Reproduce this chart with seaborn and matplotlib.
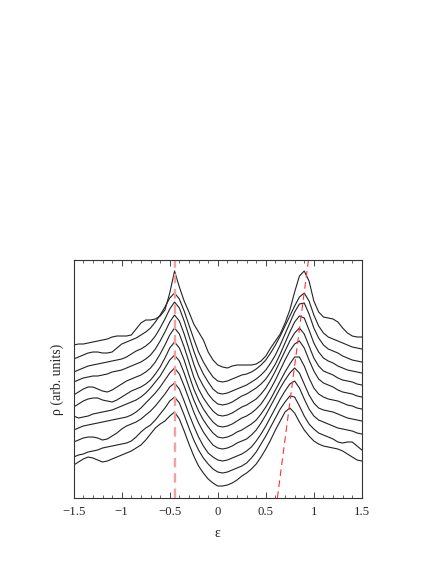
import numpy as np
import pandas as pd
import matplotlib
matplotlib.use('Agg')
import matplotlib.pyplot as plt
import seaborn as sns


# Energiegitter (epsilon)
eps = [-1.5, -1.45, -1.4, -1.35, -1.3, -1.25, -1.2, -1.15, -1.1, -1.05,
       -1.0, -0.95, -0.9, -0.85, -0.8, -0.75, -0.7, -0.65, -0.6, -0.55,
       -0.5, -0.45, -0.4, -0.35, -0.3, -0.25, -0.2, -0.15, -0.1, -0.05,
       0.0, 0.05, 0.1, 0.15, 0.2, 0.25, 0.3, 0.35, 0.4, 0.45,
       0.5, 0.55, 0.6, 0.65, 0.7, 0.75, 0.8, 0.85, 0.9, 0.95,
       1.0, 1.05, 1.1, 1.15, 1.2, 1.25, 1.3, 1.35, 1.4, 1.45, 1.5]

# Zustandsdichte, von unten nach oben (bereits versetzt)
rho_0 = [33, 36, 39, 41, 40, 38, 36, 37, 39, 41,
         43, 45, 47, 50, 53, 58, 64, 70, 74, 77,
         82, 86, 79, 67, 54, 42, 32, 25, 19, 15,
         12, 12, 13, 15, 18, 22, 25, 29, 34, 41,
         49, 58, 68, 77, 86, 90, 85, 76, 68, 62,
         57, 54, 52, 51, 50, 49, 47, 44, 41, 38, 37]
rho_1 = [41, 43, 44, 46, 47, 48, 50, 51, 52, 53,
         54, 55, 57, 61, 66, 70, 73, 78, 84, 90,
         97, 101, 95, 83, 70, 58, 48, 40, 34, 29,
         26, 25, 26, 28, 30, 32, 35, 40, 46, 54,
         62, 71, 80, 89, 96, 102, 101, 92, 82, 74,
         69, 65, 63, 61, 59, 56, 55, 56, 56, 52, 48]
rho_2 = [56, 58, 60, 61, 61, 60, 58, 59, 62, 65,
         69, 72, 74, 76, 79, 83, 87, 92, 98, 104,
         111, 115, 109, 97, 84, 72, 61, 52, 45, 41,
         38, 37, 38, 40, 42, 44, 47, 51, 57, 64,
         72, 81, 90, 99, 107, 114, 117, 110, 99, 89,
         82, 78, 76, 74, 72, 70, 69, 68, 67, 65, 64]
rho_3 = [68, 70, 72, 73, 74, 75, 76, 77, 78, 79,
         80, 81, 83, 86, 90, 95, 100, 105, 111, 118,
         125, 130, 124, 112, 99, 86, 75, 66, 59, 53,
         50, 49, 50, 52, 55, 57, 59, 63, 68, 75,
         83, 92, 101, 110, 118, 125, 130, 125, 114, 103,
         95, 90, 88, 87, 86, 84, 82, 80, 79, 78, 77]
rho_4 = [82, 80, 81, 82, 84, 85, 86, 87, 88, 90,
         92, 94, 96, 98, 101, 105, 110, 116, 122, 130,
         138, 143, 137, 125, 111, 98, 87, 78, 71, 65,
         61, 60, 61, 63, 66, 68, 71, 74, 78, 84,
         91, 99, 108, 117, 126, 134, 141, 141, 132, 120,
         110, 104, 101, 99, 98, 97, 95, 93, 92, 90, 89]
rho_5 = [91, 94, 97, 99, 100, 100, 98, 97, 96, 98,
         101, 104, 107, 109, 111, 114, 118, 124, 131, 140,
         150, 156, 150, 138, 123, 109, 98, 89, 82, 76,
         72, 71, 72, 74, 77, 80, 82, 85, 89, 94,
         101, 109, 118, 128, 138, 147, 154, 157, 150, 138,
         127, 119, 115, 113, 111, 108, 106, 105, 104, 102, 101]
rho_6 = [103, 106, 109, 111, 111, 109, 107, 106, 108, 111,
         114, 117, 119, 121, 123, 126, 130, 136, 144, 153,
         163, 170, 164, 151, 136, 121, 109, 100, 93, 87,
         83, 82, 83, 85, 88, 91, 93, 96, 99, 104,
         110, 118, 127, 137, 147, 157, 165, 170, 164, 152,
         140, 132, 127, 125, 123, 120, 118, 117, 116, 114, 113]
rho_7 = [116, 118, 120, 121, 122, 122, 123, 124, 126, 127,
         128, 130, 132, 134, 136, 139, 143, 149, 157, 166,
         176, 183, 177, 164, 149, 134, 121, 112, 104, 98,
         94, 93, 94, 96, 99, 102, 104, 107, 110, 114,
         119, 126, 134, 144, 155, 166, 176, 182, 180, 168,
         155, 146, 140, 137, 135, 132, 130, 128, 127, 126, 125]
rho_8 = [126, 128, 130, 132, 133, 134, 135, 136, 137, 138,
         139, 141, 144, 147, 149, 152, 156, 162, 170, 179,
         189, 196, 190, 177, 162, 147, 134, 124, 116, 109,
         105, 104, 105, 107, 109, 111, 113, 116, 119, 123,
         128, 135, 143, 153, 164, 175, 186, 194, 195, 184,
         170, 160, 153, 149, 147, 145, 142, 140, 138, 137, 136]
rho_9 = [139, 141, 143, 145, 146, 146, 145, 145, 146, 150,
         154, 156, 158, 160, 163, 166, 170, 176, 183, 191,
         200, 205, 199, 187, 173, 159, 146, 136, 128, 121,
         117, 116, 117, 119, 121, 123, 124, 126, 129, 133,
         138, 145, 153, 162, 172, 182, 192, 201, 205, 197,
         183, 172, 165, 161, 159, 157, 155, 153, 151, 150, 149]
rho_10 = [153, 154, 154, 155, 156, 157, 158, 159, 161, 162,
          162, 162, 163, 169, 175, 178, 178, 179, 182, 188,
          205, 227, 211, 197, 186, 174, 166, 158, 146, 138,
          133, 131, 130, 132, 133, 133, 133, 133, 134, 137,
          142, 150, 157, 164, 175, 188, 206, 222, 227, 217,
          197, 186, 181, 180, 179, 176, 170, 165, 162, 161, 161]

kurven = [rho_0, rho_1, rho_2, rho_3, rho_4, rho_5,
          rho_6, rho_7, rho_8, rho_9, rho_10]

# Hilfslinien (Peakpositionen)
linie_links_eps = [-0.445, -0.445]
linie_rechts_eps = [0.62, 0.944]
linie_rho = [0, 238]

xticks = [-1.5, -1.0, -0.5, 0.0, 0.5, 1.0, 1.5]
xtick_labels = ['\u22121.5', '\u22121', '\u22120.5', '0', '0.5', '1', '1.5']

sns.set_style('ticks')
plt.rcParams['font.family'] = ['Liberation Serif', 'DejaVu Serif']

fig = plt.figure(figsize=(4.36, 5.64), dpi=100)
ax = fig.add_axes([0.169, 0.117, 0.661, 0.422])

for rho in kurven:
    df = pd.DataFrame({'eps': eps, 'rho': rho})
    sns.lineplot(data=df, x='eps', y='rho', color='#222222', linewidth=0.8,
                 estimator=None, sort=False, ax=ax)

sns.lineplot(x=linie_links_eps, y=linie_rho, color='#f4a0a0', linewidth=1.7,
             estimator=None, ax=ax).lines[-1].set_dashes([4, 2.5])
sns.lineplot(x=linie_rechts_eps, y=linie_rho, color='#ff3030', linewidth=0.8,
             estimator=None, ax=ax).lines[-1].set_dashes([6, 4])

ax.set_xlim(-1.5, 1.5)
ax.set_ylim(0, 238)
ax.set_xticks(xticks)
ax.set_xticklabels(xtick_labels)
ax.set_xticks(np.arange(-1.5, 1.51, 0.1), minor=True)
ax.set_yticks([])
ax.tick_params(axis='x', which='major', direction='in', length=4, width=0.6,
               top=True, labelsize=9.2, pad=6)
ax.tick_params(axis='x', which='minor', direction='in', length=2, width=0.5,
               top=True)
for s in ax.spines.values():
    s.set_visible(True)
    s.set_linewidth(0.8)
    s.set_color('#333333')

ax.set_xlabel('\u03b5', fontsize=10, labelpad=6)
ax.set_ylabel('\u03c1 (arb. units)', fontsize=10, labelpad=7)

fig.savefig('out.png', dpi=100)
